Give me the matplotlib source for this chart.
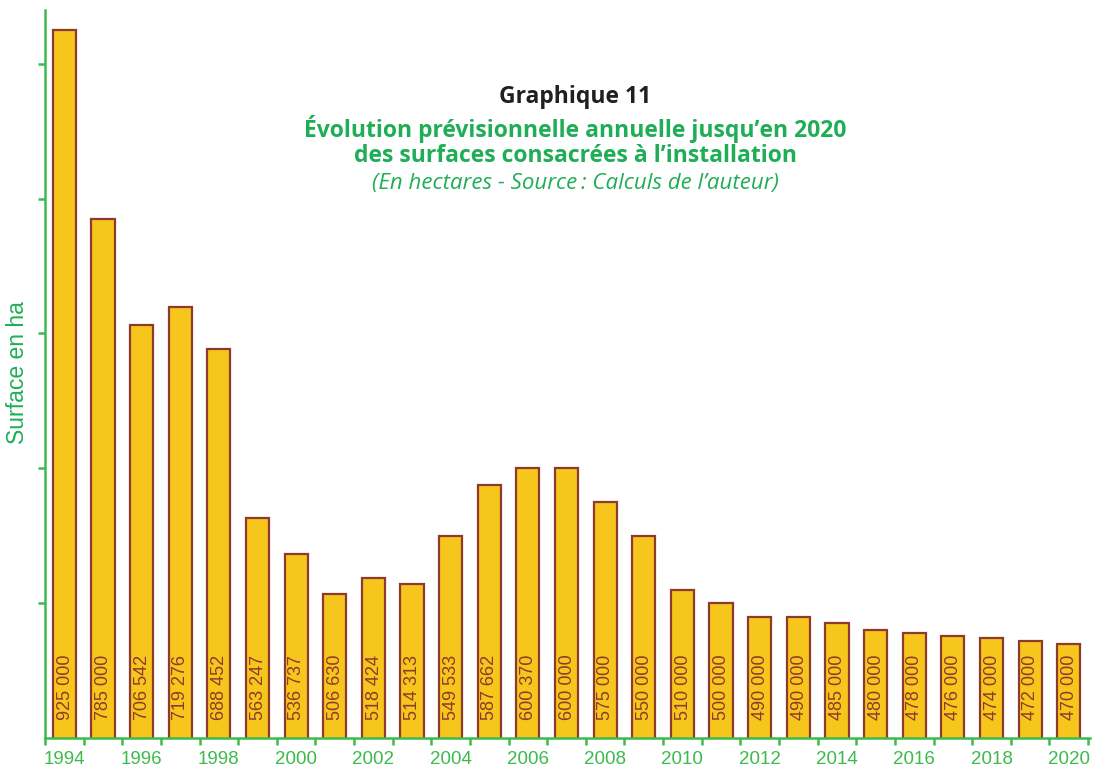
import matplotlib
matplotlib.use("Agg")
import matplotlib.pyplot as plt
import numpy as np

years = list(range(1994, 2021))
surfaces = [925000, 785000, 706542, 719276, 688452, 563247, 536737, 506630,
            518424, 514313, 549533, 587662, 600370, 600000, 575000, 550000,
            510000, 500000, 490000, 490000, 485000, 480000, 478000, 476000,
            474000, 472000, 470000]

green = "#3dba4e"
title_green = "#1fae55"
bar_fill = "#f6c61c"
bar_edge = "#8e3a2c"

plt.rcParams['font.family'] = ['Liberation Sans', 'DejaVu Sans']

fig = plt.figure(figsize=(10.94, 7.69), dpi=100)
ax = fig.add_axes([45 / 1094, 31 / 769, 1045 / 1094, 728 / 769])

x = np.arange(len(years))
ax.bar(x, surfaces, width=0.6, color=bar_fill, edgecolor=bar_edge,
       linewidth=1.6, zorder=2)

def fmt(v):
    return f"{v:,}".replace(",", " ")

for xi, v in zip(x, surfaces):
    ax.annotate(fmt(v), (xi, 400000), xytext=(0.5, 13), textcoords="offset points",
                rotation=90, ha="center", va="bottom", fontsize=13,
                color=bar_edge)

ax.set_ylim(400000, 939800)
ax.set_xlim(-0.5, len(years) - 0.45)

for s in ["top", "right"]:
    ax.spines[s].set_visible(False)
for s in ["left", "bottom"]:
    ax.spines[s].set_color(green)
    ax.spines[s].set_linewidth(1.8)

ax.set_yticks(np.arange(500000, 901000, 100000))
ax.set_yticklabels([])
ax.tick_params(axis="y", colors=green, length=5, width=1.8, direction="out")

ax.set_xticks(x[::2])
ax.set_xticklabels([str(y) for y in years[::2]])
ax.set_xticks(np.arange(-0.5, len(years), 1), minor=True)
ax.tick_params(axis="x", which="major", length=0, labelsize=13.5,
               labelcolor=green, pad=9)
ax.tick_params(axis="x", which="minor", length=5, width=1.8, color=green,
               direction="out")

fig.text(18 / 1094, 1 - 373 / 769, "Surface en ha", rotation=90,
         ha="center", va="center", fontsize=16.5, color=title_green)

title_font = ['Open Sans', 'DejaVu Sans']
cx = 575 / 1094
fig.text(cx, 1 - 97 / 769, "Graphique 11", ha="center", va="center",
         fontsize=16.5, fontweight="bold", color="#231f20", family=title_font)
fig.text(cx, 1 - 129 / 769, "Évolution prévisionnelle annuelle jusqu’en 2020",
         ha="center", va="center", fontsize=16.5, fontweight="bold",
         color=title_green, family=title_font)
fig.text(cx, 1 - 156 / 769, "des surfaces consacrées à l’installation",
         ha="center", va="center", fontsize=16.5, fontweight="bold",
         color=title_green, family=title_font)
fig.text(cx, 1 - 183 / 769, "(En hectares - Source\u2009: Calculs de l’auteur)",
         ha="center", va="center", fontsize=16, style="italic",
         color=title_green, family=title_font)

fig.savefig("out.png", dpi=100)
